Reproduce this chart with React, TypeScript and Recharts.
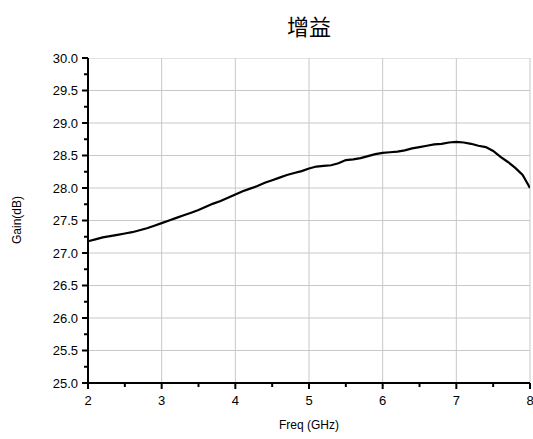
import { CartesianGrid, Line, LineChart, XAxis, YAxis } from 'recharts';

const freq = [
  2.0, 2.1, 2.2, 2.3, 2.4, 2.5, 2.6, 2.7, 2.8, 2.9,
  3.0, 3.1, 3.2, 3.3, 3.4, 3.5, 3.6, 3.7, 3.8, 3.9,
  4.0, 4.1, 4.2, 4.3, 4.4, 4.5, 4.6, 4.7, 4.8, 4.9,
  5.0, 5.1, 5.2, 5.3, 5.4, 5.5, 5.6, 5.7, 5.8, 5.9,
  6.0, 6.1, 6.2, 6.3, 6.4, 6.5, 6.6, 6.7, 6.8, 6.9,
  7.0, 7.1, 7.2, 7.3, 7.4, 7.5, 7.6, 7.7, 7.8, 7.9, 8.0,
];

const gain = [
  27.18, 27.21, 27.24, 27.26, 27.28, 27.3, 27.32, 27.35, 27.38, 27.42,
  27.46, 27.5, 27.54, 27.58, 27.62, 27.66, 27.71, 27.76, 27.8, 27.85,
  27.9, 27.95, 27.99, 28.03, 28.08, 28.12, 28.16, 28.2, 28.23, 28.26,
  28.3, 28.33, 28.34, 28.35, 28.38, 28.43, 28.44, 28.46, 28.49, 28.52,
  28.54, 28.55, 28.56, 28.58, 28.61, 28.63, 28.65, 28.67, 28.68, 28.7,
  28.71, 28.7, 28.68, 28.65, 28.63, 28.57, 28.48, 28.4, 28.31, 28.2, 28.0,
];

const xDomain = [2, 8];
const yDomain = [25, 30];
const xTicks = [2, 3, 4, 5, 6, 7, 8];
const xAllTicks = [2, 2.5, 3, 3.5, 4, 4.5, 5, 5.5, 6, 6.5, 7, 7.5, 8];
const yTicks = [25, 25.5, 26, 26.5, 27, 27.5, 28, 28.5, 29, 29.5, 30];
const yAllTicks = [
  25, 25.25, 25.5, 25.75, 26, 26.25, 26.5, 26.75, 27, 27.25, 27.5,
  27.75, 28, 28.25, 28.5, 28.75, 29, 29.25, 29.5, 29.75, 30,
];

const data = freq.map((f, i) => ({ freq: f, gain: gain[i] }));

// horizontal grid lines as flat series across the x domain
const gridRows = yTicks.map((v) => xDomain.map((f) => ({ freq: f, gain: v })));

const font = '"Liberation Sans", Arial, sans-serif';

// bottom axis: major ticks get a label, half steps only a short mark
function BottomTick({ x, y, payload }: any) {
  const major = xTicks.includes(payload.value);
  return (
    <g>
      <line x1={x} y1={y} x2={x} y2={y + (major ? 6 : 4)} stroke="#000" strokeWidth={2} />
      {major && (
        <text x={x} y={y + 22} textAnchor="middle" fontSize={13} fontFamily={font} fill="#000">
          {payload.value}
        </text>
      )}
    </g>
  );
}

function LeftTick({ x, y, payload }: any) {
  const major = yTicks.includes(payload.value);
  return (
    <g>
      <line x1={x} y1={y} x2={x - (major ? 6 : 4)} y2={y} stroke="#000" strokeWidth={2} />
      {major && (
        <text x={x - 10} y={y} dy="0.35em" textAnchor="end" fontSize={13} fontFamily={font} fill="#000">
          {payload.value.toFixed(1)}
        </text>
      )}
    </g>
  );
}

function TopTick({ x, y }: any) {
  return <line x1={x} y1={y} x2={x} y2={y - 2} stroke="#666" strokeWidth={1} />;
}

function RightTick({ x, y }: any) {
  return <line x1={x} y1={y} x2={x + 3} y2={y} stroke="#000" strokeWidth={1.5} />;
}

export default function App() {
  return (
    <div style={{ position: 'absolute', left: 0, top: 0, width: 533, height: 439, background: '#fff' }}>
      <div
        style={{
          position: 'absolute',
          left: 309,
          top: 9,
          transform: 'translateX(-50%)',
          fontSize: 22,
          fontFamily: '"Noto Sans CJK SC", sans-serif',
          color: '#000',
        }}
      >
        增益
      </div>
      <div
        style={{
          position: 'absolute',
          left: 17,
          top: 220,
          transform: 'translate(-50%, -50%) rotate(-90deg)',
          fontSize: 12,
          fontFamily: font,
          whiteSpace: 'nowrap',
        }}
      >
        Gain(dB)
      </div>
      <div
        style={{
          position: 'absolute',
          left: 309,
          top: 425,
          transform: 'translate(-50%, -50%)',
          fontSize: 12,
          fontFamily: font,
          whiteSpace: 'nowrap',
        }}
      >
        Freq (GHz)
      </div>
      <LineChart
        width={533}
        height={439}
        data={data}
        margin={{ top: 58, right: 3, bottom: 0, left: 0 }}
      >
        <CartesianGrid
          xAxisId="main"
          yAxisId="main"
          stroke="#c8c8c8"
          strokeWidth={1}
          horizontal={false}
          verticalValues={xTicks}
        />
        <XAxis
          xAxisId="main"
          dataKey="freq"
          type="number"
          domain={xDomain}
          ticks={xAllTicks}
          interval={0}
          tick={<BottomTick />}
          tickSize={0}
          tickMargin={0}
          tickLine={false}
          axisLine={{ stroke: '#000', strokeWidth: 2 }}
          height={56}
          allowDataOverflow
        />
        <XAxis
          xAxisId="top"
          orientation="top"
          dataKey="freq"
          type="number"
          domain={xDomain}
          ticks={xAllTicks}
          interval={0}
          tick={<TopTick />}
          tickSize={0}
          tickMargin={0}
          tickLine={false}
          axisLine={{ stroke: '#000', strokeWidth: 2 }}
          height={0}
        />
        <YAxis
          yAxisId="main"
          type="number"
          domain={yDomain}
          ticks={yAllTicks}
          interval={0}
          tick={<LeftTick />}
          tickSize={0}
          tickMargin={0}
          tickLine={false}
          axisLine={{ stroke: '#000', strokeWidth: 2 }}
          width={88}
          allowDataOverflow
        />
        <YAxis
          yAxisId="right"
          orientation="right"
          dataKey="gain"
          type="number"
          domain={yDomain}
          ticks={yAllTicks}
          interval={0}
          tick={<RightTick />}
          tickSize={0}
          tickMargin={0}
          tickLine={false}
          axisLine={{ stroke: '#000', strokeWidth: 2 }}
          width={0}
        />
        {gridRows.map((row, i) => (
          <Line
            key={`grid-${i}`}
            xAxisId="main"
            yAxisId="main"
            data={row}
            type="linear"
            dataKey="gain"
            stroke="#c8c8c8"
            strokeWidth={1}
            dot={false}
            activeDot={false}
            legendType="none"
            isAnimationActive={false}
          />
        ))}
        <Line
          xAxisId="main"
          yAxisId="main"
          type="linear"
          dataKey="gain"
          stroke="#000"
          strokeWidth={2.2}
          dot={false}
          isAnimationActive={false}
        />
      </LineChart>
    </div>
  );
}
